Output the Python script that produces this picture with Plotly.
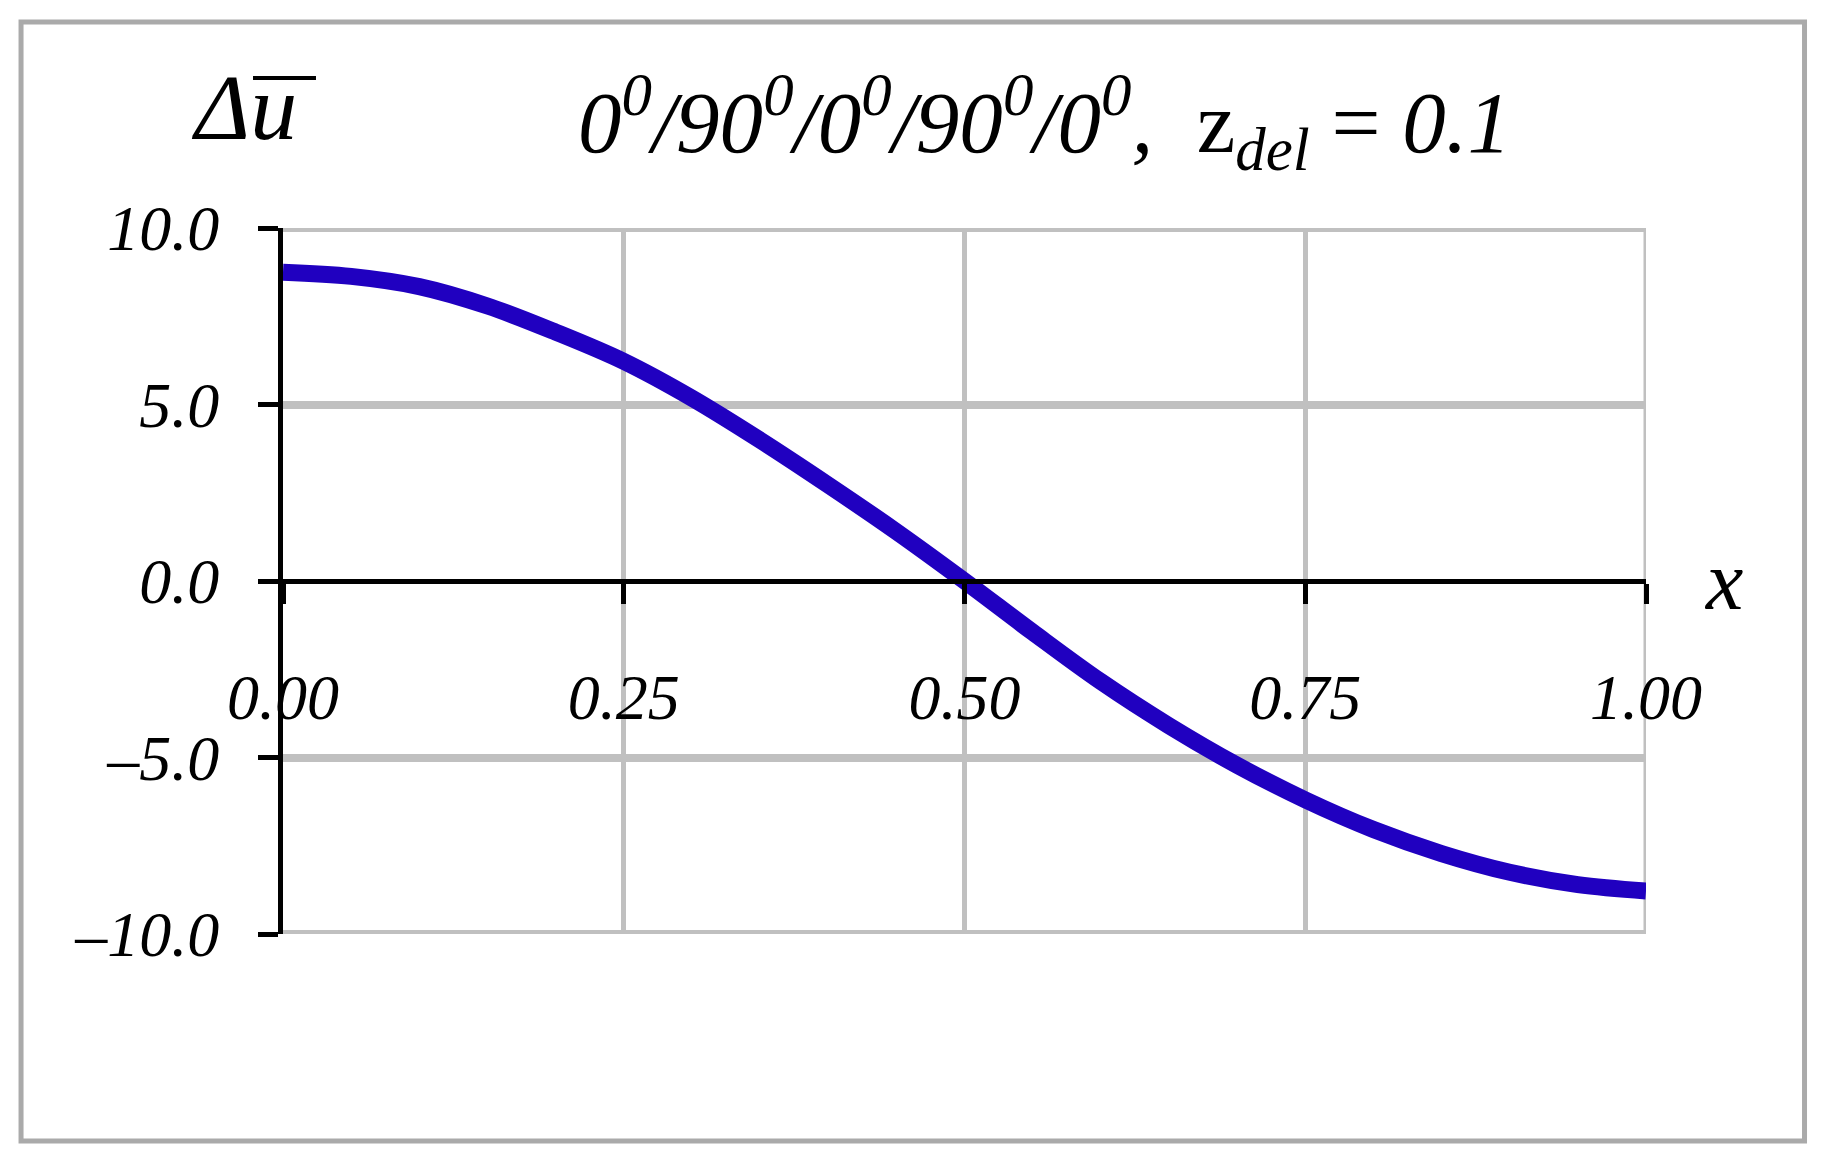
import plotly.graph_objects as go

# beam coordinate and deflection difference
x_vals = [0.00, 0.05, 0.10, 0.15, 0.20, 0.25, 0.30, 0.35, 0.40, 0.45, 0.50,
          0.55, 0.60, 0.65, 0.70, 0.75, 0.80, 0.85, 0.90, 0.95, 1.00]
du_vals = [8.75, 8.63, 8.34, 7.79, 7.05, 6.22, 5.18, 3.99, 2.72, 1.40, 0.00,
           -1.45, -2.85, -4.10, -5.22, -6.20, -7.04, -7.72, -8.25, -8.60, -8.78]

x_ticks = [0.0, 0.25, 0.5, 0.75, 1.0]
x_ticktext = ["0.00", "0.25", "0.50", "0.75", "1.00"]
y_ticks = [-10, -5, 0, 5, 10]
y_ticktext = ["\u201310.0", "\u20135.0", "0.0", "5.0", "10.0"]

title_text = (
    "<i>0<sup>0</sup>/90<sup>0</sup>/0<sup>0</sup>/90<sup>0</sup>/0<sup>0</sup>,</i>"
    "\u00a0\u00a0z<i><sub>del</sub></i>\u00a0=\u00a0<i>0.1</i>"
)

serif = "Liberation Serif"
grid_color = "#c0c0c0"

fig = go.Figure(
    go.Scatter(
        x=x_vals,
        y=du_vals,
        mode="lines",
        line=dict(color="#2000c0", width=17, shape="spline"),
        hoverinfo="skip",
    )
)

# page body adds 8px offset, margins compensate for it
fig.update_layout(
    width=1830,
    height=1157,
    margin=dict(l=275, r=192, t=220, b=231),
    paper_bgcolor="white",
    plot_bgcolor="white",
    showlegend=False,
    font=dict(family=serif, color="black"),
)

fig.update_xaxes(
    range=[0, 1],
    tickvals=x_ticks,
    ticktext=x_ticktext,
    anchor="free",
    position=0.5,
    showline=True,
    linecolor="black",
    linewidth=5,
    ticks="outside",
    ticklen=20,
    tickwidth=5,
    tickcolor="black",
    ticklabelstandoff=38,
    showgrid=True,
    gridcolor=grid_color,
    gridwidth=5,
    zeroline=False,
    tickfont=dict(family=serif, size=64, style="italic"),
)

fig.update_yaxes(
    range=[-10, 10],
    tickvals=y_ticks,
    ticktext=y_ticktext,
    showline=True,
    linecolor="black",
    linewidth=5,
    ticks="outside",
    ticklen=20,
    tickwidth=5,
    tickcolor="black",
    ticklabelstandoff=26,
    showgrid=True,
    gridcolor=grid_color,
    gridwidth=8,
    zeroline=True,
    zerolinecolor="black",
    zerolinewidth=5,
    tickfont=dict(family=serif, size=64, style="italic"),
)

# grid lines on the plot edges that plotly leaves out
fig.add_shape(type="line", xref="x", yref="y", x0=0, x1=1, y0=10, y1=10,
              line=dict(color=grid_color, width=8), layer="below")
fig.add_shape(type="line", xref="x", yref="y", x0=0, x1=1, y0=-10, y1=-10,
              line=dict(color=grid_color, width=8), layer="below")
fig.add_shape(type="line", xref="x", yref="y", x0=1, x1=1, y0=-10, y1=10,
              line=dict(color=grid_color, width=5), layer="below")

# title, y label and x label
fig.add_annotation(
    text=title_text, xref="paper", yref="paper", x=0.5587, y=1.15,
    xanchor="center", yanchor="middle", showarrow=False,
    font=dict(family=serif, size=87),
)
fig.add_annotation(
    text="\u0394u", xref="paper", yref="paper", x=-0.069, y=1.172,
    xanchor="left", yanchor="middle", showarrow=False,
    font=dict(family=serif, size=94, style="italic"),
)
fig.add_annotation(
    text="x", xref="paper", yref="paper", x=1.0572, y=0.501,
    xanchor="center", yanchor="middle", showarrow=False,
    font=dict(family=serif, size=84, style="italic"),
)

# overline on u
fig.add_shape(
    type="line", xref="paper", yref="paper",
    x0=-0.022, x1=0.0242, y0=1.2125, y1=1.2125,
    line=dict(color="black", width=4),
)

# outer frame
fig.add_shape(
    type="rect", xref="paper", yref="paper",
    x0=-0.1922, x1=1.1163, y0=-0.2932, y1=1.2918,
    line=dict(color="#aaaaaa", width=5),
)

fig.write_html("out.html")
